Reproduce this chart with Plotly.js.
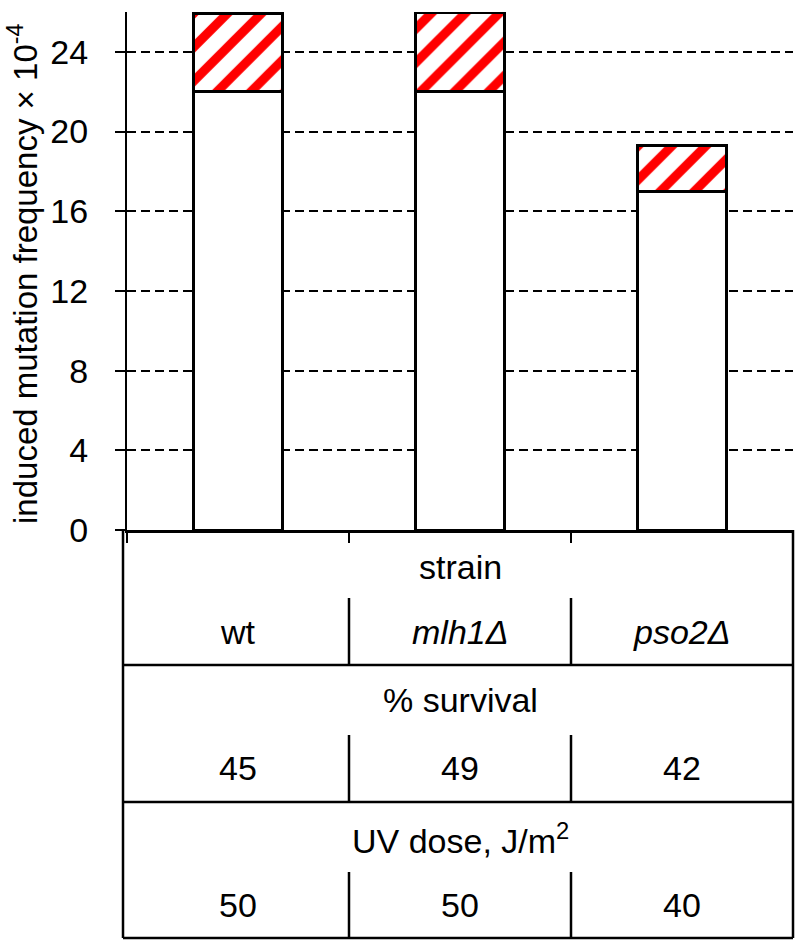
<!DOCTYPE html>
<html>
<head>
<meta charset="utf-8">
<script src="https://cdn.plot.ly/plotly-3.0.1.min.js"></script>
<style>html,body{margin:0;padding:0;background:#fff;}#chart{width:797px;height:943px;}</style>
</head>
<body>
<div id="chart"></div>
<script>
const strains = ["wt", "<i>mlh1Δ</i>", "<i>pso2Δ</i>"];
const baseFreq = [22, 22, 17];
const extraFreq = [3.9, 4.0, 2.3];
const survival = ["45", "49", "42"];
const uvDose = ["50", "50", "40"];
const yTicks = [0, 4, 8, 12, 16, 20, 24];
const yTitle = "induced mutation frequency × 10<sup>-4</sup>";

const xIdx = strains.map((s, i) => i);
const FONT = "Liberation Sans, Arial, sans-serif";
const FS = 34;

const traces = [
  {
    type: "bar", x: xIdx, y: baseFreq, width: 0.405,
    marker: {color: "#ffffff", line: {color: "#000", width: 3}},
    hoverinfo: "skip", showlegend: false
  },
  {
    type: "bar", x: xIdx, y: extraFreq, width: 0.405,
    marker: {color: "#ffffff", line: {color: "#000", width: 3},
      pattern: {shape: "/", fgcolor: "#ff0000", bgcolor: "#ffffff", fgopacity: 1, size: 24, solidity: 0.38, fillmode: "replace"}},
    hoverinfo: "skip", showlegend: false
  }
];

// pixel -> paper helpers (plot area: y 12..530, x 127..793)
const py = p => (530 - p) / 518;
const px = p => (p - 127) / 666;

const shapes = [];
const lw = 2.5;
shapes.push({type: "line", xref: "paper", yref: "paper", x0: px(123), x1: px(123), y0: py(530), y1: py(938), line: {color: "#000", width: lw}});
shapes.push({type: "line", xref: "paper", yref: "paper", x0: 1, x1: 1, y0: py(530), y1: py(938), line: {color: "#000", width: lw}});
[665, 802, 938].forEach(h => shapes.push({type: "line", xref: "paper", yref: "paper", x0: px(123), x1: 1, y0: py(h), y1: py(h), line: {color: "#000", width: lw}}));
[0.5, 1.5].forEach(xv => {
  [[598, 665], [735, 802], [872, 938]].forEach(([a, b]) => {
    shapes.push({type: "line", xref: "x", yref: "paper", x0: xv, x1: xv, y0: py(a), y1: py(b), line: {color: "#000", width: lw}});
  });
});

const ann = [];
const txt = (text, x, xref, yp) => ({text, x, xref, y: py(yp), yref: "paper", showarrow: false, xanchor: "center", yanchor: "middle", font: {family: FONT, size: FS, color: "#000"}});
ann.push(txt("strain", 0.5, "paper", 567));
strains.forEach((s, i) => ann.push(txt(s, i, "x", 632)));
ann.push(txt("% survival", 0.5, "paper", 700));
survival.forEach((s, i) => ann.push(txt(s, i, "x", 768)));
ann.push(txt("UV dose, J/m<sup>2</sup>", 0.5, "paper", 838));
uvDose.forEach((s, i) => ann.push(txt(s, i, "x", 905)));
// y-axis title placed precisely
ann.push({text: yTitle, textangle: -90, x: px(23), xref: "paper", y: py(274), yref: "paper",
  showarrow: false, xanchor: "center", yanchor: "middle", font: {family: FONT, size: 33, color: "#000"}});

const layout = {
  width: 797, height: 943,
  margin: {l: 127, r: 4, t: 12, b: 413},
  paper_bgcolor: "#fff", plot_bgcolor: "#fff",
  barmode: "stack",
  font: {family: FONT, size: FS, color: "#000"},
  xaxis: {
    range: [-0.5, 2.5], showticklabels: false, showgrid: false, zeroline: false,
    tickmode: "array", tickvals: [-0.5, 0.5, 1.5], ticks: "outside", ticklen: 10, tickwidth: 2, tickcolor: "#000",
    showline: true, linecolor: "#000", linewidth: 2.5, fixedrange: true
  },
  yaxis: {
    range: [0, 26], tickmode: "array", tickvals: yTicks, ticktext: yTicks.map(String),
    ticks: "outside", ticklen: 10, tickwidth: 2, tickcolor: "#000", ticklabelstandoff: 20,
    showline: true, linecolor: "#000", linewidth: 2, zeroline: false,
    showgrid: true, gridcolor: "#000", gridwidth: 2, griddash: "9px,5px",
    tickfont: {family: FONT, size: FS, color: "#000"},
    automargin: false, fixedrange: true
  },
  shapes, annotations: ann
};

Plotly.newPlot("chart", traces, layout, {displayModeBar: false, staticPlot: true});
</script>
</body>
</html>
